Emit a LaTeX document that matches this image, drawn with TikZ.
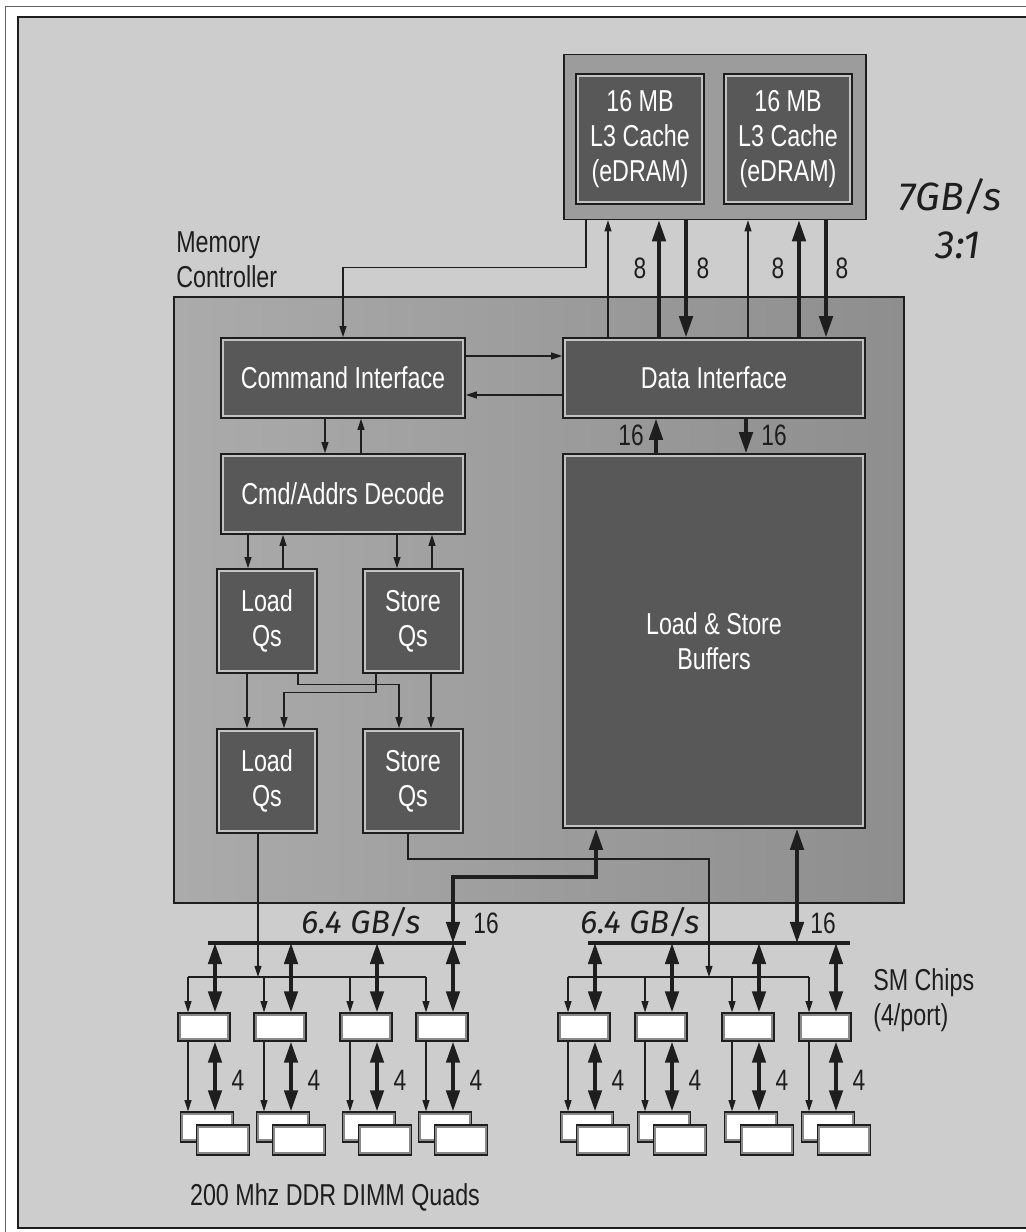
\documentclass[tikz,border=0pt]{standalone}
\usepackage{fontspec}
\setmainfont[FakeStretch=0.77]{Liberation Sans}
\newfontfamily\handfont{Fira Sans}
\usepackage{tikz}
\usetikzlibrary{arrows.meta,positioning,calc}
\definecolor{paper}{HTML}{CDCDCD}
\definecolor{ctrllight}{HTML}{ABABAB}
\definecolor{ctrldark}{HTML}{8E8E8E}
\definecolor{blockdark}{HTML}{585858}
\definecolor{blockedge}{HTML}{C2C2C2}
\definecolor{cachetray}{HTML}{9C9C9C}
\definecolor{chipedge}{HTML}{8A8A8A}
\definecolor{ink}{HTML}{1E1E1E}
\newcommand\blockfont{\fontsize{21.5}{25}\selectfont}
\newcommand\numfont{\fontsize{21}{24}\selectfont}
\tikzset{
  block/.style={
    rectangle,
    draw=ink,
    line width=1pt,
    fill=blockedge,
    text=white,
    align=center,
    inner sep=0pt,
    font=\blockfont,
    path picture={
      \fill[blockdark]
        ($(path picture bounding box.south west)+(2.2pt,2.2pt)$) rectangle
        ($(path picture bounding box.north east)+(-2.2pt,-2.2pt)$);
    }
  },
  tray/.style={
    rectangle,
    draw=ink,
    line width=1pt,
    fill=cachetray,
    inner sep=0pt
  },
  controller/.style={
    rectangle,
    draw=ink,
    line width=1.2pt,
    left color=ctrllight,
    right color=ctrldark,
    inner sep=0pt
  },
  smchip/.style={
    rectangle,
    draw=ink,
    line width=0.9pt,
    fill=chipedge,
    inner sep=0pt,
    minimum width=1.3cm,
    minimum height=0.7cm,
    path picture={
      \fill[white]
        ($(path picture bounding box.south west)+(2pt,2pt)$) rectangle
        ($(path picture bounding box.north east)+(-2pt,-2pt)$);
    }
  },
  dimm/.style={smchip, minimum width=1.325cm, minimum height=0.75cm},
  caption/.style={
    font=\blockfont,
    text=ink,
    align=left,
    inner sep=0pt
  },
  numlbl/.style={
    font=\numfont,
    text=ink,
    inner sep=0pt
  },
  scrawl/.style={
    font=\handfont\itshape,
    text=ink,
    inner sep=0pt
  },
  thinarr/.style={
    -{Triangle[length=8pt,width=5pt]},
    draw=ink,
    line width=0.9pt
  },
  thinline/.style={
    draw=ink,
    line width=0.9pt
  },
  fatarr/.style={
    -{Triangle[length=15pt,width=9.5pt]},
    draw=ink,
    line width=2.6pt
  },
  fatboth/.style={
    {Triangle[length=15pt,width=9.5pt]}-{Triangle[length=15pt,width=9.5pt]},
    draw=ink,
    line width=2.6pt
  },
  fatline/.style={
    draw=ink,
    line width=2.8pt
  }
}

\begin{document}
\begin{tikzpicture}[x=0.025cm, y=-0.025cm]

\useasboundingbox (0,0) rectangle (1026,1232);

% Paper and frame.
\fill[white] (0,0) rectangle (1026,1232);
\draw[ink!70, line width=0.6pt] (5,1240) -- (5,6) -- (1040,6);
\fill[paper] (18,17) rectangle (1040,1228);
\draw[ink, line width=1.2pt] (1040,1228) -- (18,1228) -- (18,17) -- (1040,17);

% L3 cache pair.
\node[tray, minimum width=7.55cm, minimum height=4.125cm] (l3) at (715,137) {};
\node[block, minimum width=3.2cm, minimum height=3.25cm] (cacheA) at (640,139)
  {16 MB\\L3 Cache\\(eDRAM)};
\node[block, minimum width=3.2cm, minimum height=3.25cm] (cacheB) at (788,139)
  {16 MB\\L3 Cache\\(eDRAM)};

% Memory controller and its blocks.
\node[controller, minimum width=18.25cm, minimum height=15.15cm] (mc) at (539,600) {};
\node[caption, anchor=west] (mclabel) at (176,260) {Memory\\Controller};

\node[block, minimum width=6.1cm, minimum height=2cm] (ci) at (343,378) {Command Interface};
\node[block, minimum width=7.55cm, minimum height=2cm] (di) at (714,378) {Data Interface};
\node[block, minimum width=6.1cm, minimum height=2cm] (dec) at (343,494) {Cmd/Addrs Decode};
\node[block, minimum width=7.55cm, minimum height=9.35cm] (lsb) at (714,641)
  {Load \& Store\\Buffers};

\node[block, minimum width=2.5cm, minimum height=2.6cm] (lq1) at (267,621) {Load\\Qs};
\node[block, minimum width=2.5cm, minimum height=2.6cm] (sq1) at (413,621) {Store\\Qs};
\node[block, minimum width=2.5cm, minimum height=2.6cm] (lq2) at (267,781) {Load\\Qs};
\node[block, minimum width=2.5cm, minimum height=2.6cm] (sq2) at (413,781) {Store\\Qs};

% L3 to data interface, 8 bytes each way.
\draw[thinarr] ($(l3.south)+(-129,0)$) |- ($(ci.north)+(0,-70)$) -- (ci.north);
\draw[thinarr] ($(di.north)+(-106,0)$) -- ($(l3.south)+(-107,0)$);
\draw[fatarr] ($(di.north)+(-55,0)$) -- ($(l3.south)+(-56,0)$);
\draw[fatarr] ($(l3.south)+(-29,0)$) -- ($(di.north)+(-28,0)$);
\draw[thinarr] ($(di.north)+(34,0)$) -- ($(l3.south)+(33,0)$);
\draw[fatarr] ($(di.north)+(85,0)$) -- ($(l3.south)+(84,0)$);
\draw[fatarr] ($(l3.south)+(111,0)$) -- ($(di.north)+(112,0)$);
\node[numlbl] (eightA) at (640,268) {8};
\node[numlbl] (eightB) at (703,268) {8};
\node[numlbl] (eightC) at (778,268) {8};
\node[numlbl] (eightD) at (842,268) {8};

% Command side.
\draw[thinarr] ($(ci.east)+(0,-22)$) -- ($(di.west)+(0,-22)$);
\draw[thinarr] ($(di.west)+(0,17)$) -- ($(ci.east)+(0,17)$);
\draw[thinarr] ($(ci.south)+(-18,0)$) -- ($(dec.north)+(-18,0)$);
\draw[thinarr] ($(dec.north)+(18,0)$) -- ($(ci.south)+(18,0)$);
\draw[thinarr] ($(dec.south -| lq1.north)+(-19,0)$) -- ($(lq1.north)+(-19,0)$);
\draw[thinarr] ($(lq1.north)+(16,0)$) -- ($(dec.south -| lq1.north)+(16,0)$);
\draw[thinarr] ($(dec.south -| sq1.north)+(-16,0)$) -- ($(sq1.north)+(-16,0)$);
\draw[thinarr] ($(sq1.north)+(19,0)$) -- ($(dec.south -| sq1.north)+(19,0)$);

% Queue stages.
\draw[thinarr] ($(lq1.south)+(-20,0)$) -- ($(lq2.north)+(-20,0)$);
\draw[thinarr] ($(lq1.south)+(31,0)$) |- ($(sq2.north)+(-14,-44)$) -- ($(sq2.north)+(-14,0)$);
\draw[thinarr] ($(sq1.south)+(-37,0)$) |- ($(lq2.north)+(17,-36)$) -- ($(lq2.north)+(17,0)$);
\draw[thinarr] ($(sq1.south)+(18,0)$) -- ($(sq2.north)+(18,0)$);

% Data interface to buffers, 16 bytes each way.
\draw[fatarr] ($(lsb.north)+(-58,0)$) -- ($(di.south)+(-58,0)$);
\draw[fatarr] ($(di.south)+(32,0)$) -- ($(lsb.north)+(32,0)$);
\node[numlbl] (sixteenA) at (631,435) {16};
\node[numlbl] (sixteenB) at (774,435) {16};

% SM chips and DIMM quads, four per port.
\foreach \cx [count=\i] in {204,280,366,442,584,661,748,825} {
  \node[smchip] (chip\i) at (\cx,1027) {};
  \node[dimm] (back\i) at (\cx+3,1127) {};
  \node[dimm] (front\i) at (\cx+19,1140) {};
  \coordinate (tap\i) at (\cx-16,977);
  \coordinate (lane\i) at (\cx+11,943);
  \draw[thinarr] (tap\i) -- (tap\i |- chip\i.north);
  \draw[fatboth] (lane\i) -- (lane\i |- chip\i.north);
  \draw[thinarr] (tap\i |- chip\i.south) -- (tap\i |- back\i.north);
  \draw[fatboth] (lane\i |- chip\i.south) -- (lane\i |- back\i.north);
  \node[numlbl] (four\i) at (\cx+34,1080) {4};
}

% Port buses.
\coordinate (busLw) at (208,943);
\coordinate (busLe) at (466,943);
\coordinate (busRw) at (588,943);
\coordinate (busRe) at (850,943);
\draw[fatline] (busLw) -- (busLe);
\draw[fatline] (busRw) -- (busRe);
\draw[thinline] (tap1) -- (tap4);
\draw[thinline] (tap5) -- (tap8);

\coordinate (bendL) at (596,877);
\coordinate (dropR) at (797,943);
\draw[fatboth] (lsb.south -| bendL) -- (bendL) -| (lane4);
\draw[fatboth] (lsb.south -| dropR) -- (dropR);
\node[numlbl] (sixteenC) at (486,923) {16};
\node[numlbl] (sixteenD) at (823,923) {16};

\coordinate (lqdrop) at (258,977);
\coordinate (sqturn) at (408,859);
\coordinate (sqdrop) at (709,977);
\draw[thinarr] (lq2.south -| lqdrop) -- (lqdrop);
\draw[thinarr] (sq2.south -| sqturn) -- (sqturn) -| (sqdrop);

% Captions.
\node[caption, anchor=west] (smlabel) at (873,1000) {SM Chips\\(4/port)};
\node[caption] (dimmlabel) at (335,1197) {200 Mhz DDR DIMM Quads};

% Handwritten notes.
\node[scrawl, font=\handfont\itshape\fontsize{28}{30}\selectfont] (bwtop) at (950,197) {7GB/s};
\node[scrawl, font=\handfont\itshape\fontsize{28}{30}\selectfont] (ratio) at (958,245) {3:1};
\node[scrawl, font=\handfont\itshape\fontsize{23}{26}\selectfont] (bwleft) at (361,922) {6.4 GB/s};
\node[scrawl, font=\handfont\itshape\fontsize{23}{26}\selectfont] (bwright) at (640,922) {6.4 GB/s};

\end{tikzpicture}
\end{document}
